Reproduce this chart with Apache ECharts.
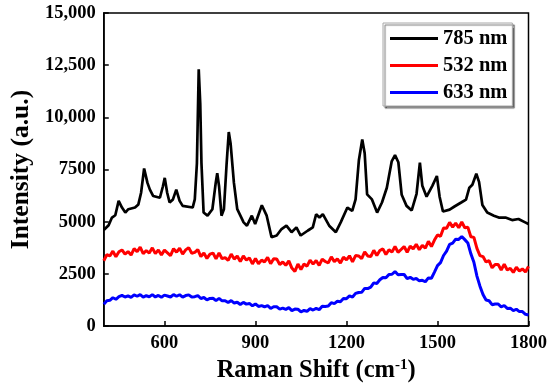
<!DOCTYPE html>
<html><head><meta charset="utf-8">
<script src="https://cdn.jsdelivr.net/npm/echarts@6/dist/echarts.min.js"></script>
<style>html,body{margin:0;padding:0;background:#fff}#c{width:550px;height:388px}</style>
</head><body><div id="c"></div>
<script>
const seriesNames = ['785 nm', '532 nm', '633 nm'];
const seriesColors = ['#000000', '#ff0000', '#0000ff'];

// 785 nm spectrum (Raman shift, intensity)
const shift785 = [400,416,427,438,449,460,471,481,503,514,523,533,544,552,563,585,595,601,609,617,628,639,650,660,693,700,707,713,718,722,729,742,758,769,774,780,788,796,805,812,818,829,840,861,872,888,899,921,937,953,970,986,1002,1019,1035,1049,1073,1089,1100,1111,1122,1143,1165,1181,1203,1219,1230,1241,1252,1260,1268,1284,1301,1317,1333,1349,1360,1371,1382,1398,1415,1431,1442,1450,1464,1483,1498,1507,1518,1540,1556,1578,1594,1605,1615,1628,1637,1648,1664,1686,1702,1724,1746,1767,1789,1800];
const int785 = [4600,4830,5200,5310,6000,5680,5440,5600,5680,5830,6390,7550,6860,6540,6230,6150,6700,7100,6390,5920,6070,6540,6000,5760,5680,6070,7800,12300,10650,7800,5440,5290,5600,6860,7330,6700,5290,5600,7800,9300,8750,6860,5600,4970,4810,5290,4890,5790,5290,4260,4340,4650,4810,4500,4730,4340,4580,4730,5360,5200,5360,4810,4500,4970,5680,5520,6070,7960,8940,8280,6310,6070,5440,5920,6630,7890,8190,7850,6290,5760,5540,6340,7830,6720,6200,6720,7190,6200,5490,5580,5730,5920,6060,6630,6770,7300,6910,5800,5440,5290,5200,5200,5080,5130,4970,4890];

// 532 nm and 633 nm spectra share one Raman shift grid
const shift = [400,410,420,430,440,450,460,470,480,490,500,510,520,530,540,550,560,570,580,590,600,610,620,630,640,650,660,670,680,690,700,710,720,730,740,750,760,770,780,790,800,810,820,830,840,850,860,870,880,890,900,910,920,930,940,950,960,970,980,990,1000,1010,1020,1030,1040,1050,1060,1070,1080,1090,1100,1110,1120,1130,1140,1150,1160,1170,1180,1190,1200,1210,1220,1230,1240,1250,1260,1270,1280,1290,1300,1310,1320,1330,1340,1350,1360,1370,1380,1390,1400,1410,1420,1430,1440,1450,1460,1470,1480,1490,1500,1510,1520,1530,1540,1550,1560,1570,1580,1590,1600,1610,1620,1630,1640,1650,1660,1670,1680,1690,1700,1710,1720,1730,1740,1750,1760,1770,1780,1790,1800];
const int532 = [
3130,3420,3360,3590,3320,3560,3650,3445,3570,3405,
3710,3560,3780,3470,3620,3500,3750,3470,3650,3410,
3640,3510,3380,3710,3540,3730,3450,3650,3760,3490,
3530,3660,3330,3500,3240,3445,3500,3220,3500,3230,
3280,3150,3450,3210,3360,3090,3360,3160,3270,2980,
3240,2990,3160,3075,3290,2990,3230,3220,2950,3070,
2910,3125,2780,2620,2970,2710,2970,2870,3160,2970,
3140,2905,3210,3095,3030,3320,3090,3220,3020,3300,
3170,3370,3080,3380,3360,3235,3560,3360,3330,3630,
3380,3620,3700,3430,3660,3545,3810,3535,3670,3810,
3540,3825,3700,3920,3660,3870,3740,4060,3810,4120,
4370,4300,4700,4690,4970,4740,4930,4710,4990,4710,
4740,4280,4250,3720,3380,3330,3070,3140,2790,2950,
2950,2690,2960,2690,2770,2570,2820,2640,2740,2590,
2860];
const int633 = [
1052,1216,1234,1360,1286,1414,1472,1394,1448,1377,
1494,1430,1509,1388,1456,1408,1508,1396,1468,1380,
1485,1442,1394,1510,1431,1503,1387,1462,1496,1390,
1408,1464,1322,1372,1256,1325,1334,1219,1328,1212,
1218,1128,1220,1104,1144,1032,1137,1054,1086,970,
1064,941,981,926,986,846,927,924,813,862,
804,885,742,814,808,684,748,710,838,770,
846,786,952,942,962,1124,1078,1190,1170,1324,
1314,1446,1392,1566,1612,1618,1804,1796,1866,2070,
2044,2218,2328,2312,2476,2484,2614,2462,2474,2472,
2276,2340,2240,2280,2168,2194,2124,2308,2294,2588,
2898,3040,3382,3588,3914,3976,4166,4152,4292,4142,
3986,3464,3060,2396,1912,1514,1248,1216,1026,1060,
1060,918,988,848,858,740,808,694,696,566,
530];

const xTicks = [600, 900, 1200, 1500, 1800];
const yTicks = [0, 2500, 5000, 7500, 10000, 12500, 15000];
const yTickLabels = ['0', '2500', '5000', '7500', '10,000', '12,500', '15,000'];

const FONT = "'Liberation Serif', 'Times New Roman', serif";
const pairs = (xs, ys) => xs.map((x, i) => [x, ys[i]]);

const chart = echarts.init(document.getElementById('c'), null, {renderer: 'canvas'});
chart.setOption({
  animation: false,
  backgroundColor: '#ffffff',
  grid: {left: 100, right: 20, top: 13, bottom: 58, show: true, borderColor: '#000', borderWidth: 1.5, backgroundColor: 'transparent'},
  legend: {
    data: seriesNames,
    orient: 'vertical',
    left: 383, top: 23,
    padding: [5, 5, 3, 7],
    itemGap: 6,
    itemWidth: 48, itemHeight: 3,
    icon: 'rect',
    backgroundColor: '#ffffff',
    borderColor: '#a8a8a8', borderWidth: 1,
    shadowColor: 'rgba(0,0,0,0.55)', shadowOffsetX: 2, shadowOffsetY: 2, shadowBlur: 1,
    textStyle: {fontFamily: FONT, fontWeight: 'bold', fontSize: 20.5, color: '#000'}
  },
  xAxis: {
    type: 'value', min: 400, max: 1800,
    name: '{a|Raman Shift (cm}{s|-1}{a|)}',
    nameLocation: 'middle', nameGap: 16,
    nameTextStyle: {rich: {
      a: {fontFamily: FONT, fontWeight: 'bold', fontSize: 24.5, color: '#000'},
      s: {fontFamily: FONT, fontWeight: 'bold', fontSize: 15, color: '#000', verticalAlign: 'top'}
    }},
    axisLine: {show: true, lineStyle: {color: '#000', width: 1.5}},
    axisTick: {show: true, inside: true, length: 5, lineStyle: {color: '#000', width: 1.5}, customValues: xTicks},
    axisLabel: {customValues: xTicks, fontFamily: FONT, fontWeight: 'bold', fontSize: 18.5, color: '#000', margin: 8,
      formatter: v => String(v)},
    splitLine: {show: false}
  },
  yAxis: {
    type: 'value', min: 0, max: 15000, interval: 2500,
    name: 'Intensity (a.u.)',
    nameLocation: 'middle', nameGap: 63,
    nameTextStyle: {fontFamily: FONT, fontWeight: 'bold', fontSize: 25.5, color: '#000'},
    axisLine: {show: true, lineStyle: {color: '#000', width: 1.5}},
    axisTick: {show: true, inside: true, length: 5, lineStyle: {color: '#000', width: 1.5}},
    axisLabel: {fontFamily: FONT, fontWeight: 'bold', fontSize: 18.5, color: '#000', margin: 8,
      formatter: v => { const i = yTicks.indexOf(v); return i >= 0 ? yTickLabels[i] : ''; }},
    splitLine: {show: false}
  },
  series: [
    {name: seriesNames[0], type: 'line', data: pairs(shift785, int785), showSymbol: false, color: seriesColors[0], lineStyle: {width: 2.7, color: seriesColors[0]}, z: 3},
    {name: seriesNames[1], type: 'line', data: pairs(shift, int532), showSymbol: false, color: seriesColors[1], lineStyle: {width: 3, color: seriesColors[1]}, z: 2},
    {name: seriesNames[2], type: 'line', data: pairs(shift, int633), showSymbol: false, color: seriesColors[2], lineStyle: {width: 3, color: seriesColors[2]}, z: 2}
  ]
});
</script></body></html>
